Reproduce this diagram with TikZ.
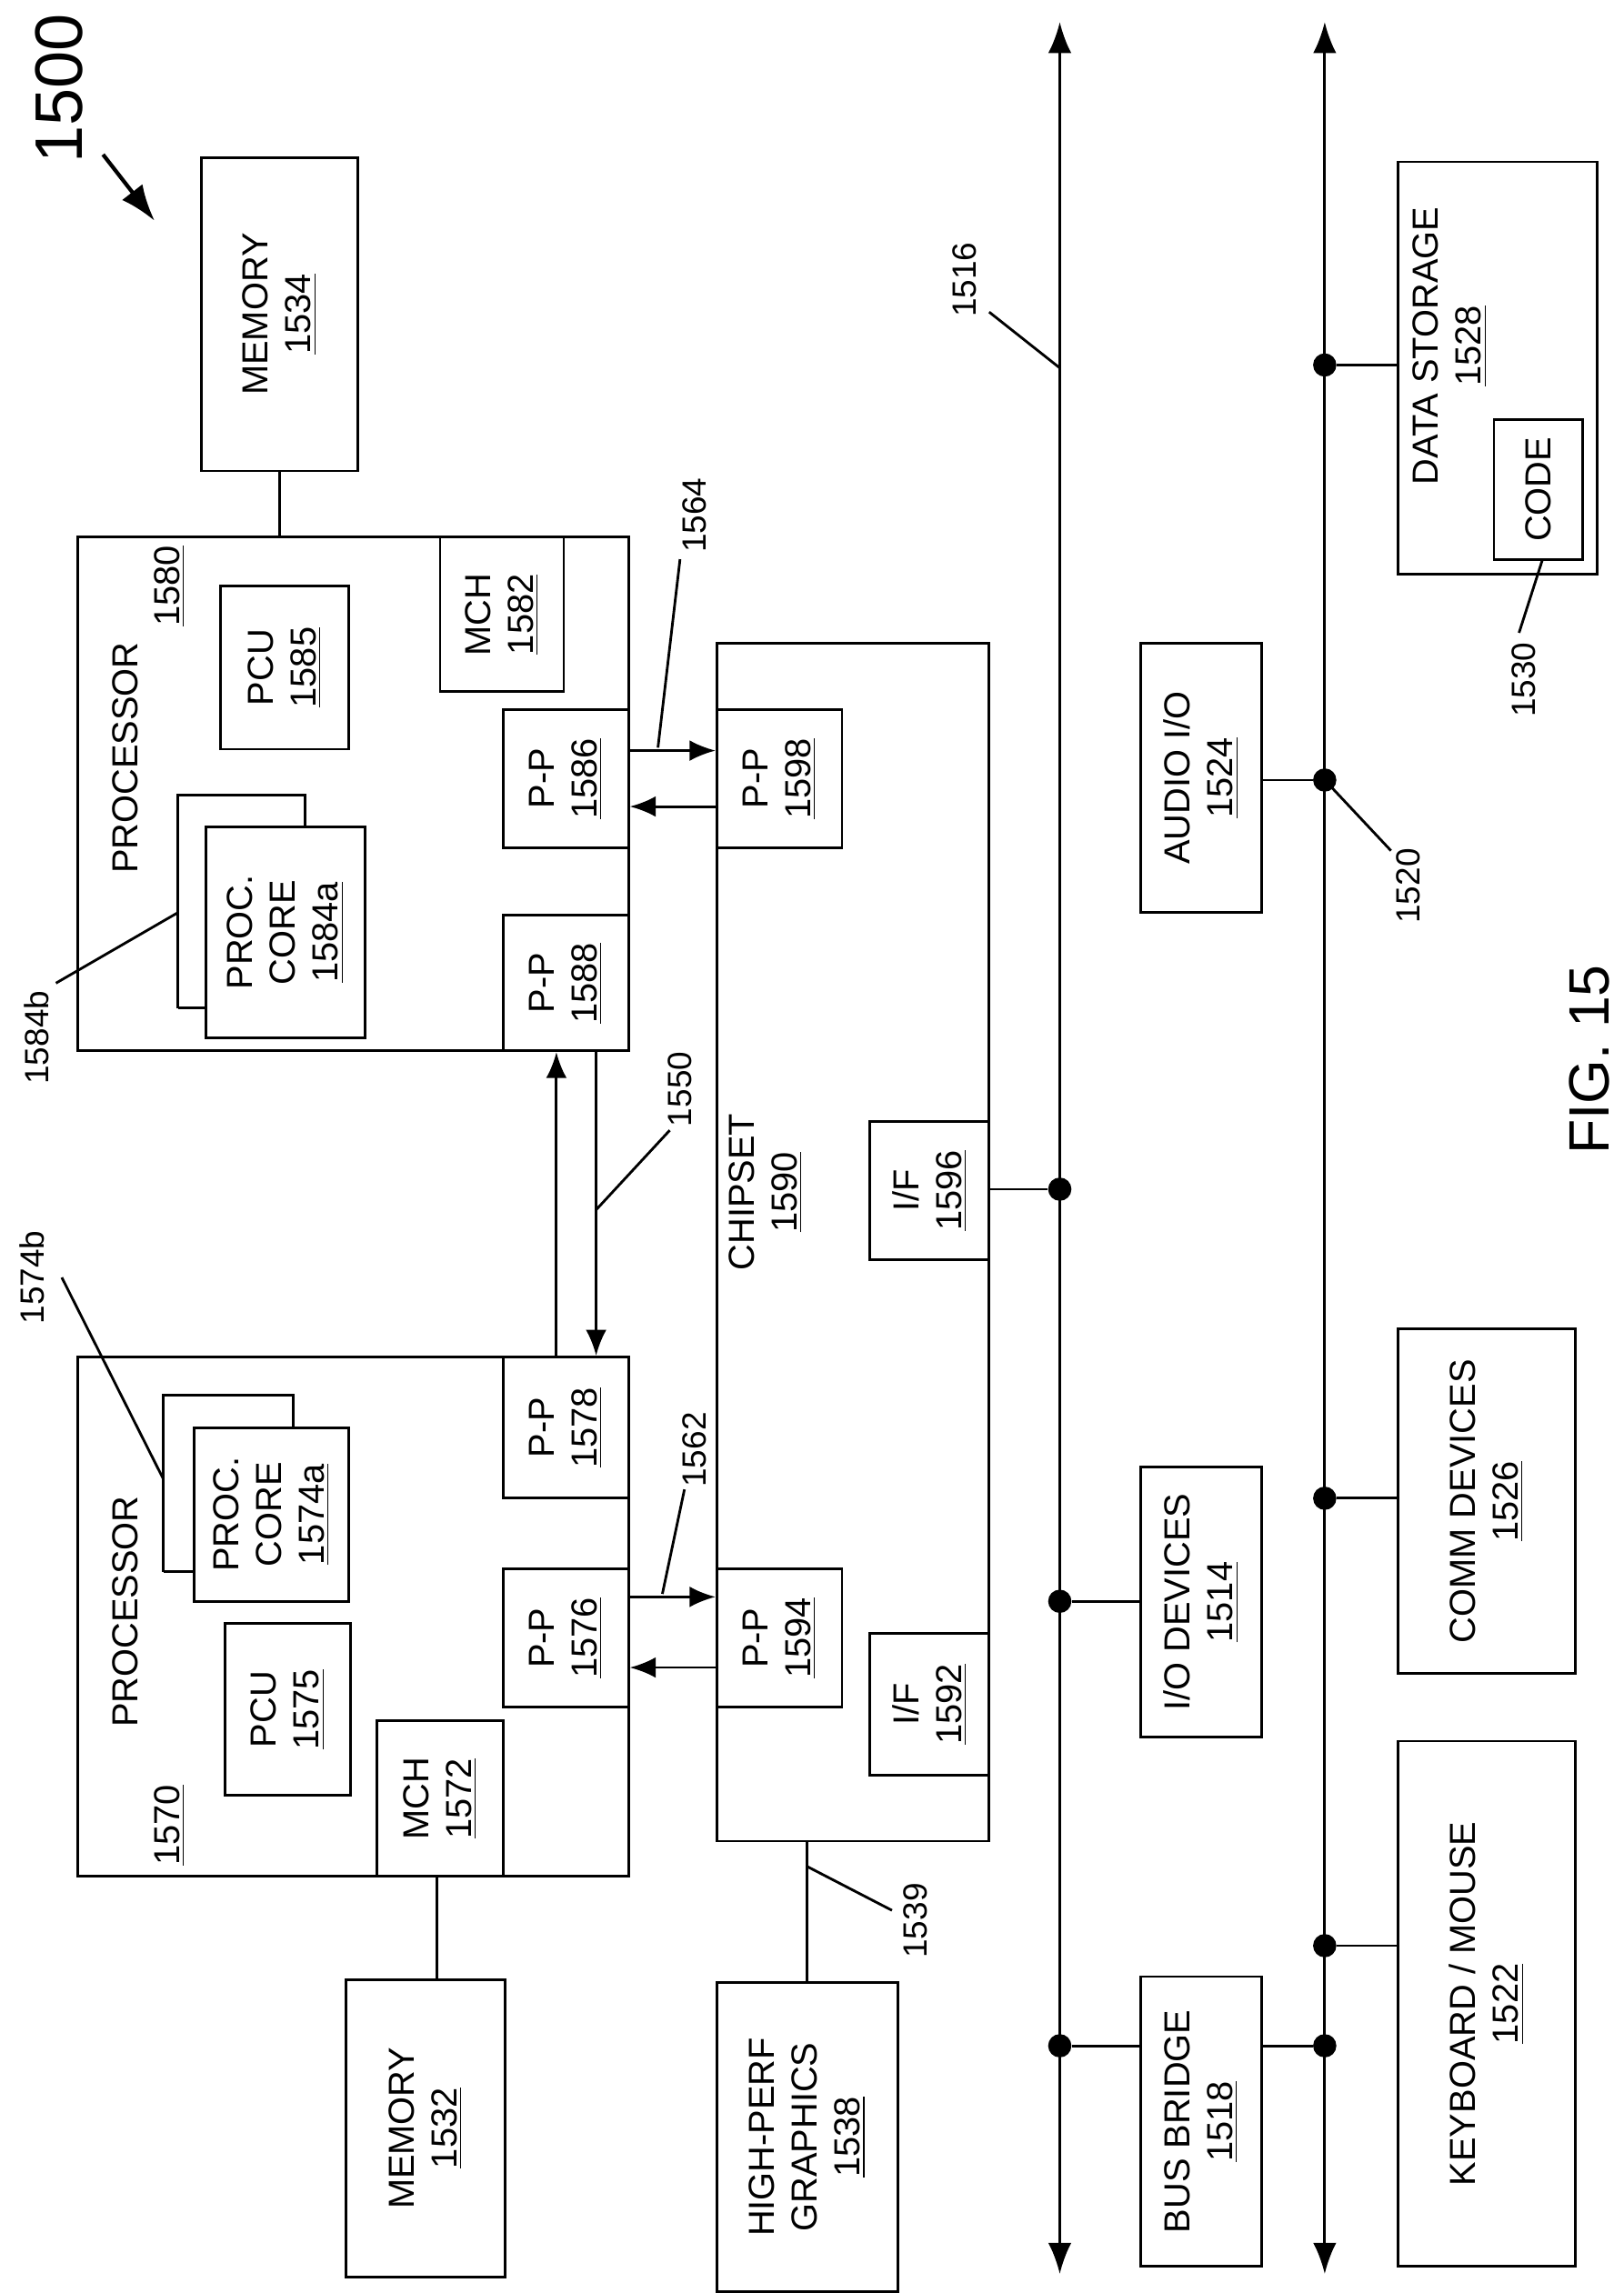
\documentclass[tikz,border=0pt]{standalone}
\usepackage{fontspec}
\setmainfont{Liberation Sans}
\usetikzlibrary{arrows.meta, fit}
\tikzset{
  blk/.style={draw, line width=1pt, inner sep=0pt},
  txt/.style={rotate=90, align=center, font=\fontsize{14}{16.5}\selectfont},
  lbl/.style={rotate=90, font=\fontsize{13}{15}\selectfont},
  wire/.style={line width=1pt},
  arrow/.style={line width=1pt, -{Latex[length=10pt,width=8pt]}},
  dot/.style={circle, fill, inner sep=0pt, minimum size=9pt}
}
\newcommand{\blk}[5]{\node[blk, fit={(#2,#3)(#4,#5)}] (#1) {};}

\begin{document}
\begin{tikzpicture}[x=0.02cm, y=-0.02cm]
\useasboundingbox (0,0) rectangle (1103,1558);

% Processor 1580 side
\blk{mem1534}{137}{107}{243}{320}
\node[txt] at (mem1534.center) {MEMORY\\\underline{1534}};
\blk{proc1580}{53}{365}{427}{714}
\node[txt] at (85,515) {PROCESSOR};
\node[txt] at (115,398) {\underline{1580}};
\blk{pcu1585}{150}{398}{237}{509}
\node[txt] at (pcu1585.center) {PCU\\\underline{1585}};
\blk{mch1582}{299}{365}{383}{470}
\node[txt] at (mch1582.center) {MCH\\\underline{1582}};
\draw[wire, fill=white] (121,685) -- (121,540) -- (207,540) -- (207,562);
\blk{core1584a}{140}{562}{248}{705}
\draw[wire] (121,685) -- (140,685);
\node[txt] at (core1584a.center) {PROC.\\CORE\\\underline{1584a}};
\blk{pp1586}{342}{482}{427}{576}
\node[txt] at (pp1586.center) {P-P\\\underline{1586}};
\blk{pp1588}{342}{622}{427}{714}
\node[txt] at (pp1588.center) {P-P\\\underline{1588}};

% Processor 1570 side
\blk{proc1570}{53}{922}{427}{1275}
\node[txt] at (85,1095) {PROCESSOR};
\node[txt] at (115,1240) {\underline{1570}};
\blk{pcu1575}{153}{1103}{238}{1220}
\node[txt] at (pcu1575.center) {PCU\\\underline{1575}};
\draw[wire] (111,1068) -- (111,948) -- (199,948) -- (199,970);
\blk{core1574a}{132}{970}{237}{1088}
\draw[wire] (111,1068) -- (132,1068);
\node[txt] at (core1574a.center) {PROC.\\CORE\\\underline{1574a}};
\blk{mch1572}{256}{1169}{342}{1275}
\node[txt] at (mch1572.center) {MCH\\\underline{1572}};
\blk{pp1578}{342}{922}{427}{1018}
\node[txt] at (pp1578.center) {P-P\\\underline{1578}};
\blk{pp1576}{342}{1066}{427}{1160}
\node[txt] at (pp1576.center) {P-P\\\underline{1576}};
\blk{mem1532}{235}{1345}{343}{1547}
\node[txt] at (mem1532.center) {MEMORY\\\underline{1532}};

% Chipset
\blk{chip1590}{487}{437}{672}{1251}
\node[txt] at (520,810) {CHIPSET\\\underline{1590}};
\blk{pp1598}{487}{482}{572}{576}
\node[txt] at (pp1598.center) {P-P\\\underline{1598}};
\blk{pp1594}{487}{1066}{572}{1160}
\node[txt] at (pp1594.center) {P-P\\\underline{1594}};
\blk{if1596}{591}{762}{672}{856}
\node[txt] at (if1596.center) {I/F\\\underline{1596}};
\blk{if1592}{591}{1110}{672}{1206}
\node[txt] at (if1592.center) {I/F\\\underline{1592}};
\blk{gfx1538}{487}{1347}{610}{1557}
\node[txt] at (gfx1538.center) {HIGH-PERF\\GRAPHICS\\\underline{1538}};

% Bus side blocks
\blk{bridge1518}{775}{1343}{857}{1540}
\node[txt] at (bridge1518.center) {BUS BRIDGE\\\underline{1518}};
\blk{kbd1522}{950}{1183}{1070}{1540}
\node[txt] at (kbd1522.center) {KEYBOARD / MOUSE\\\underline{1522}};
\blk{io1514}{775}{997}{857}{1180}
\node[txt] at (io1514.center) {I/O DEVICES\\\underline{1514}};
\blk{comm1526}{950}{903}{1070}{1137}
\node[txt] at (comm1526.center) {COMM DEVICES\\\underline{1526}};
\blk{audio1524}{775}{437}{857}{620}
\node[txt] at (audio1524.center) {AUDIO I/O\\\underline{1524}};
\blk{store1528}{950}{110}{1085}{390}
\node[txt] at (985,235) {DATA STORAGE\\\underline{1528}};
\blk{code1530}{1015}{285}{1075}{380}
\node[txt] at (code1530.center) {CODE};

% Buses
\coordinate (b1top) at (720,15);
\coordinate (b1bot) at (720,1545);
\coordinate (b2top) at (900,15);
\coordinate (b2bot) at (900,1545);
\draw[wire, {Latex[length=12pt,width=9pt]}-{Latex[length=12pt,width=9pt]}] (b1top) -- (b1bot);
\draw[wire, {Latex[length=12pt,width=9pt]}-{Latex[length=12pt,width=9pt]}] (b2top) -- (b2bot);
\node[dot] (d1) at (720,1390) {};
\node[dot] (d2) at (900,1390) {};
\node[dot] (d3) at (900,1322) {};
\node[dot] (d4) at (720,1088) {};
\node[dot] (d5) at (900,1018) {};
\node[dot] (d6) at (720,808) {};
\node[dot] (d7) at (900,530) {};
\node[dot] (d8) at (900,248) {};
\draw[wire] (d1) -- (bridge1518.west |- d1);
\draw[wire] (bridge1518.east |- d2) -- (d2);
\draw[wire] (d3) -- (kbd1522.west |- d3);
\draw[wire] (d4) -- (io1514.west |- d4);
\draw[wire] (d5) -- (comm1526.west |- d5);
\draw[wire] (if1596.east |- d6) -- (d6);
\draw[wire] (audio1524.east |- d7) -- (d7);
\draw[wire] (d8) -- (store1528.west |- d8);

% Links
\draw[wire] (mem1534.south) -- (mem1534.south |- proc1580.north);
\draw[wire] (mch1572.south -| 297,0) -- (mem1532.north -| 297,0);
\draw[wire] (chip1590.south -| 548,0) -- (gfx1538.north -| 548,0);
\draw[arrow] (pp1586.east |- 0,510) -- (pp1598.west |- 0,510);
\draw[arrow] (pp1598.west |- 0,548) -- (pp1586.east |- 0,548);
\draw[arrow] (pp1576.east |- 0,1085) -- (pp1594.west |- 0,1085);
\draw[arrow] (pp1594.west |- 0,1133) -- (pp1576.east |- 0,1133);
\draw[arrow] (pp1578.north -| 378,0) -- (pp1588.south -| 378,0);
\draw[arrow] (pp1588.south -| 405,0) -- (pp1578.north -| 405,0);

% Reference labels
\node[lbl] (l1564) at (472,350) {1564};
\draw[wire] (462,380) -- (447,508);
\node[lbl] (l1562) at (472,985) {1562};
\draw[wire] (465,1012) -- (450,1083);
\node[lbl] (l1550) at (462,740) {1550};
\draw[wire] (455,768) -- (405,822);
\node[lbl] (l1539) at (622,1305) {1539};
\draw[wire] (548,1268) -- (606,1298);
\node[lbl] (l1516) at (655,190) {1516};
\draw[wire] (672,212) -- (720,250);
\node[lbl] (l1520) at (957,602) {1520};
\draw[wire] (945,578) -- (900,530);
\node[lbl] (l1530) at (1035,462) {1530};
\draw[wire] (1032,430) -- (1048,380);
\node[lbl] (l1584b) at (25,705) {1584b};
\draw[wire] (38,668) -- (121,620);
\node[lbl] (l1574b) at (22,868) {1574b};
\draw[wire] (42,868) -- (111,1005);
\node[rotate=90, font=\fontsize{26}{30}\selectfont] (l1500) at (40,60) {1500};
\draw[line width=1.5pt, -{Latex[length=14pt,width=10pt]}] (70,105) -- (105,150);
\node[rotate=90, font=\fontsize{22}{26}\selectfont] (fig) at (1080,720) {FIG. 15};
\end{tikzpicture}
\end{document}
